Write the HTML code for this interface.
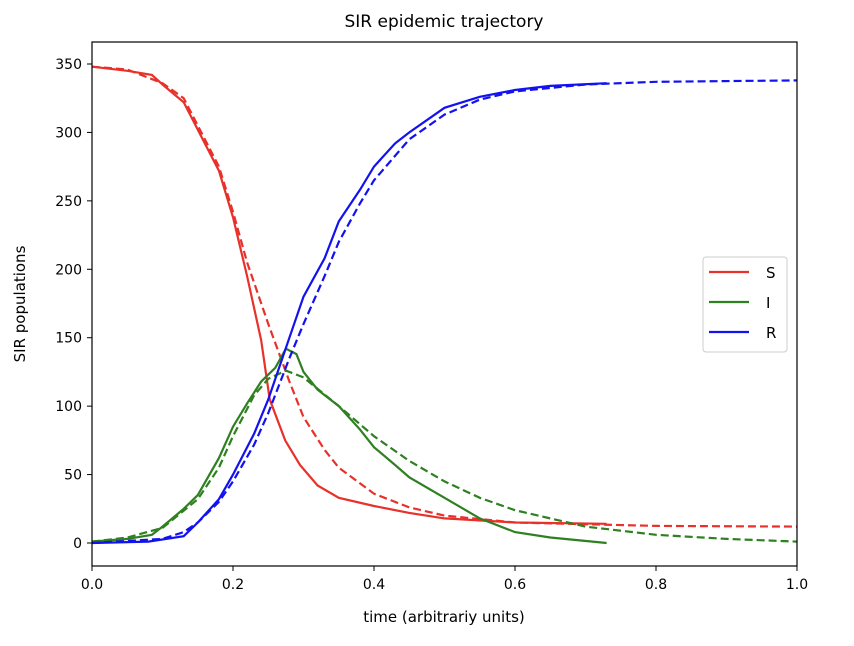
<!DOCTYPE html>
<html><head><style>
body{margin:0;background:#fff;}
svg{display:block;font-family:"DejaVu Sans","Liberation Sans",sans-serif;}
</style></head><body>
<svg id="s" width="854" height="646" xmlns="http://www.w3.org/2000/svg">
<rect width="854" height="646" fill="#fff"/>
<text x="444" y="27" font-size="17" text-anchor="middle">SIR epidemic trajectory</text>
<g id="curves" fill="none" stroke-width="2.2"></g>
<rect x="92" y="42" width="705" height="524" fill="none" stroke="#000" stroke-width="1.2"/>
<g id="ticks" font-size="14" stroke="#000"></g>
<text x="444" y="622" font-size="15" text-anchor="middle">time (arbitrariy units)</text>
<text transform="translate(25,304) rotate(-90)" font-size="15" text-anchor="middle">SIR populations</text>
<g>
<rect x="703" y="257" width="84" height="95" rx="3" fill="#fff" stroke="#ccc"/>
<line x1="709" y1="272" x2="749" y2="272" stroke="#e8312a" stroke-width="2.2"/>
<line x1="709" y1="302" x2="749" y2="302" stroke="#2e8020" stroke-width="2.2"/>
<line x1="709" y1="332" x2="749" y2="332" stroke="#1212f0" stroke-width="2.2"/>
<text x="766" y="278" font-size="15">S</text>
<text x="766" y="308" font-size="15">I</text>
<text x="766" y="338" font-size="15">R</text>
</g>
</svg>
<script>
var X=t=>92+705*t, Y=v=>543-v*1.3686;
function path(p,c,d){var s=p.map((q,i)=>(i?'L':'M')+X(q[0]).toFixed(1)+','+Y(q[1]).toFixed(1)).join(' ');
return '<path d="'+s+'" stroke="'+c+'"'+(d?' stroke-dasharray="8,4"':'')+'/>';}
var R='#e8312a',G='#2e8020',B='#1212f0';
var sd=[[0,348],[0.05,346],[0.1,336],[0.13,325],[0.15,305],[0.18,275],[0.2,242],[0.22,205],[0.25,160],[0.28,118],[0.3,92],[0.33,68],[0.35,55],[0.4,36],[0.45,26],[0.5,20],[0.6,15],[0.8,12.5],[1.0,12]];
var ss=[[0,348],[0.05,345],[0.085,342],[0.1,335],[0.13,322],[0.15,302],[0.18,272],[0.2,238],[0.22,195],[0.24,148],[0.252,105],[0.274,75],[0.295,57],[0.32,42],[0.35,33],[0.4,27],[0.45,22],[0.5,18],[0.6,15],[0.73,14]];
var id=[[0,1],[0.05,4],[0.1,11],[0.15,32],[0.18,55],[0.2,78],[0.23,108],[0.25,120],[0.275,126],[0.3,121],[0.35,100],[0.4,78],[0.45,60],[0.5,45],[0.55,33],[0.6,24],[0.7,12],[0.8,6],[0.9,3],[1.0,1]];
var is=[[0,1],[0.05,3],[0.085,6],[0.1,12],[0.13,25],[0.15,35],[0.18,62],[0.2,85],[0.22,102],[0.24,118],[0.26,128],[0.275,142],[0.29,138],[0.3,125],[0.32,112],[0.35,100],[0.38,83],[0.4,70],[0.43,57],[0.45,48],[0.5,33],[0.55,18],[0.6,8],[0.65,4],[0.73,0]];
var rd=[[0,0],[0.1,3],[0.13,8],[0.15,15],[0.18,30],[0.2,45],[0.23,72],[0.25,95],[0.28,135],[0.3,160],[0.33,195],[0.35,220],[0.38,248],[0.4,265],[0.45,295],[0.5,313],[0.55,324],[0.6,330],[0.7,335],[0.8,337],[1.0,338]];
var rs=[[0,0],[0.08,1],[0.13,5],[0.15,15],[0.18,32],[0.2,50],[0.23,80],[0.25,105],[0.28,150],[0.3,180],[0.33,208],[0.35,235],[0.38,258],[0.4,275],[0.43,292],[0.45,300],[0.5,318],[0.55,326],[0.6,331],[0.65,334],[0.73,336]];
document.getElementById('curves').innerHTML=path(sd,R,1)+path(ss,R)+path(id,G,1)+path(is,G)+path(rd,B,1)+path(rs,B);
var t='';
for(var i=0;i<=5;i++){var x=X(i*0.2);t+='<line x1="'+x+'" y1="566" x2="'+x+'" y2="571"/><text stroke="none" x="'+x+'" y="589" text-anchor="middle">'+(i*0.2).toFixed(1)+'</text>';}
for(var v=0;v<=350;v+=50){var y=Y(v);t+='<line x1="87" y1="'+y+'" x2="92" y2="'+y+'"/><text stroke="none" x="82" y="'+(y+5)+'" text-anchor="end">'+v+'</text>';}
document.getElementById('ticks').innerHTML=t;
</script>
</body></html>
